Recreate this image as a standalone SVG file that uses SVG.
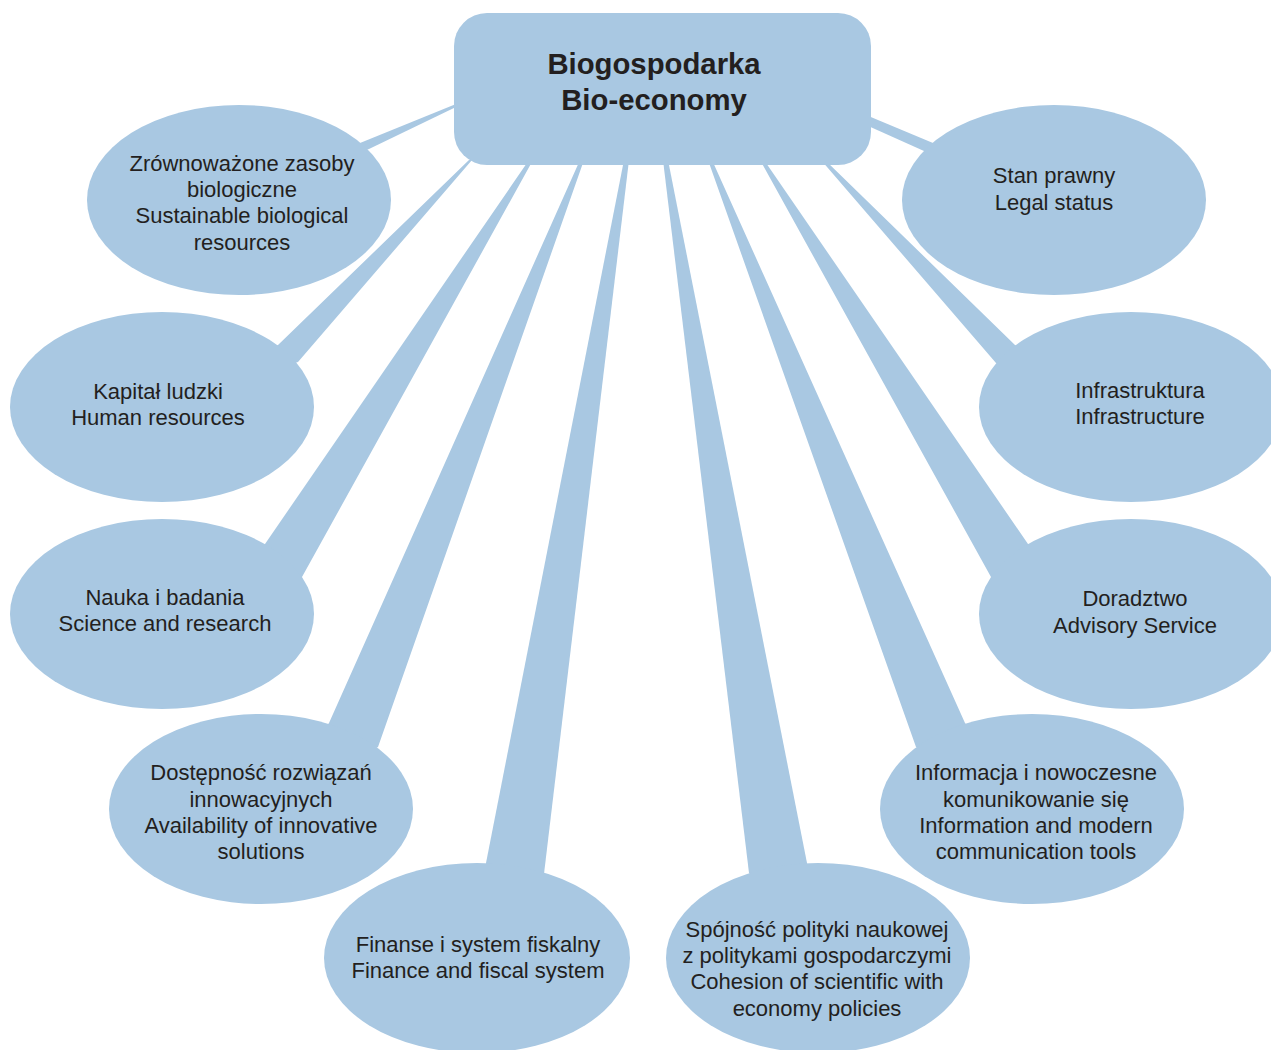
<svg xmlns="http://www.w3.org/2000/svg" width="1271" height="1050" viewBox="0 0 1271 1050">
<style>
.s{fill:#A9C8E2;}
.t{font-family:"Liberation Sans",Arial,sans-serif;font-size:22px;fill:#231F20;text-anchor:middle;}
.h{font-family:"Liberation Sans",Arial,sans-serif;font-size:29.3px;font-weight:bold;fill:#231F20;text-anchor:middle;}
</style>
<rect width="1271" height="1050" fill="#FFFFFF"/>
<g id="connectors" class="s">
<polygon points="456,104 456,107 369,149 239,200 360,143"/>
<polygon points="469,160 472,160 298,362 162,407 278,345"/>
<polygon points="529,160 533,160 302,577 162,614 265,544"/>
<polygon points="580,160 584,160 378,747 261,809 329,723"/>
<polygon points="624,160 629,160 544,874 477,958 486,863"/>
<polygon points="663,160 668,160 807,863 818,958 749,873"/>
<polygon points="708,160 712,160 965,723 1032,809 916,747"/>
<polygon points="760,160 764,160 1028,544 1131,614 991,577"/>
<polygon points="821,160 825,160 1015,345 1131,407 996,363"/>
<polygon points="866,115 866,125 924,151 1054,200 933,143"/>
</g>
<g id="center">
<rect class="s" x="454" y="13" width="417" height="152" rx="33" ry="33"/>
<text class="h" x="654" y="74">Biogospodarka</text>
<text class="h" x="654" y="110">Bio-economy</text>
</g>
<g id="n1">
<ellipse class="s" cx="239" cy="200" rx="152" ry="95"/>
<text class="t" x="242" y="171">Zrównoważone zasoby</text>
<text class="t" x="242" y="197">biologiczne</text>
<text class="t" x="242" y="223">Sustainable biological</text>
<text class="t" x="242" y="250">resources</text>
</g>
<g id="n2">
<ellipse class="s" cx="162" cy="407" rx="152" ry="95"/>
<text class="t" x="158" y="399">Kapitał ludzki</text>
<text class="t" x="158" y="425">Human resources</text>
</g>
<g id="n3">
<ellipse class="s" cx="162" cy="614" rx="152" ry="95"/>
<text class="t" x="165" y="605">Nauka i badania</text>
<text class="t" x="165" y="631">Science and research</text>
</g>
<g id="n4">
<ellipse class="s" cx="261" cy="809" rx="152" ry="95"/>
<text class="t" x="261" y="780">Dostępność rozwiązań</text>
<text class="t" x="261" y="807">innowacyjnych</text>
<text class="t" x="261" y="833">Availability of innovative</text>
<text class="t" x="261" y="859">solutions</text>
</g>
<g id="n5">
<ellipse class="s" cx="477" cy="958" rx="153" ry="95"/>
<text class="t" x="478" y="952">Finanse i system fiskalny</text>
<text class="t" x="478" y="978">Finance and fiscal system</text>
</g>
<g id="n6">
<ellipse class="s" cx="818" cy="958" rx="152" ry="95"/>
<text class="t" x="817" y="937">Spójność polityki naukowej</text>
<text class="t" x="817" y="963">z politykami gospodarczymi</text>
<text class="t" x="817" y="989">Cohesion of scientific with</text>
<text class="t" x="817" y="1016">economy policies</text>
</g>
<g id="n7">
<ellipse class="s" cx="1032" cy="809" rx="152" ry="95"/>
<text class="t" x="1036" y="780">Informacja i nowoczesne</text>
<text class="t" x="1036" y="807">komunikowanie się</text>
<text class="t" x="1036" y="833">Information and modern</text>
<text class="t" x="1036" y="859">communication tools</text>
</g>
<g id="n8">
<ellipse class="s" cx="1131" cy="614" rx="152" ry="95"/>
<text class="t" x="1135" y="606">Doradztwo</text>
<text class="t" x="1135" y="633">Advisory Service</text>
</g>
<g id="n9">
<ellipse class="s" cx="1131" cy="407" rx="152" ry="95"/>
<text class="t" x="1140" y="398">Infrastruktura</text>
<text class="t" x="1140" y="424">Infrastructure</text>
</g>
<g id="n10">
<ellipse class="s" cx="1054" cy="200" rx="152" ry="95"/>
<text class="t" x="1054" y="183">Stan prawny</text>
<text class="t" x="1054" y="210">Legal status</text>
</g>
</svg>
